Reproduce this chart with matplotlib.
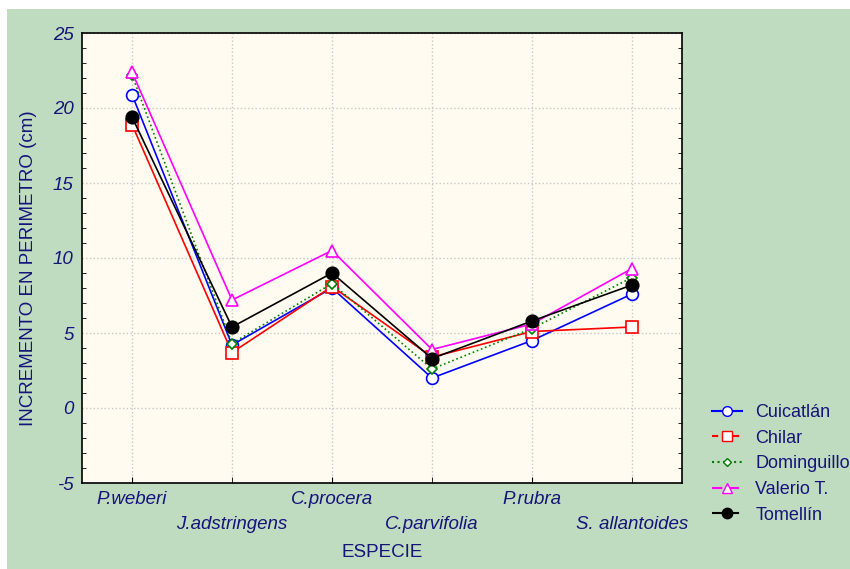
import matplotlib
matplotlib.use("Agg")
import matplotlib.pyplot as plt
from matplotlib.lines import Line2D
from matplotlib.patches import Rectangle
from matplotlib.ticker import MultipleLocator

plt.rcParams['font.family'] = ['Liberation Sans', 'DejaVu Sans']
plt.rcParams['axes.unicode_minus'] = False

especies = ["P.weberi", "J.adstringens", "C.procera", "C.parvifolia", "P.rubra", "S. allantoides"]
cuicatlan = [20.9, 4.2, 8.0, 2.0, 4.5, 7.6]
chilar = [18.9, 3.7, 8.1, 3.4, 5.1, 5.4]
dominguillo = [22.2, 4.3, 8.3, 2.6, 5.3, 8.7]
valerio = [22.4, 7.2, 10.5, 3.9, 5.6, 9.3]
tomellin = [19.4, 5.4, 9.0, 3.3, 5.8, 8.2]

navy = "#14147a"
green_bg = "#c0dcc0"
plot_bg = "#fffbf0"

fig = plt.figure(figsize=(8.5, 5.69), dpi=100)
fig.patch.set_facecolor("white")
fig.patches.append(Rectangle((7 / 850, 0), 1, 1 - 9 / 569, transform=fig.transFigure,
                             facecolor=green_bg, edgecolor="none", zorder=-10))

ax = fig.add_axes([82 / 850, 1 - 483 / 569, 600 / 850, 450 / 569])
ax.set_facecolor(plot_bg)

x = list(range(1, len(especies) + 1))

series = [
    ("Cuicatlán", cuicatlan, dict(color="blue", marker="o", mfc="white", ms=8.5, ls="-")),
    ("Chilar", chilar, dict(color="red", marker="s", mfc="white", ms=8, ls="-")),
    ("Dominguillo", dominguillo, dict(color="green", marker="D", mfc="white", ms=5.5, ls=":")),
    ("Valerio T.", valerio, dict(color="magenta", marker="^", mfc="white", ms=8, ls="-")),
    ("Tomellín", tomellin, dict(color="black", marker="o", mfc="black", ms=9, ls="-")),
]
for name, vals, st in series:
    ax.plot(x, vals, lw=1.2, mew=1.2, **st, zorder=3)

ax.set_xlim(0.5, 6.5)
ax.set_ylim(-5, 25)
ax.yaxis.set_major_locator(MultipleLocator(5))
ax.yaxis.set_minor_locator(MultipleLocator(1))

ax.set_xticks(x[::2])
ax.set_xticklabels(especies[::2])
ax.set_xticks(x[1::2], minor=True)
ax.set_xticklabels(especies[1::2], minor=True)

ax.grid(True, which="major", color="#c8c8c8", ls=":", lw=1)
ax.grid(True, which="minor", axis="x", color="#c8c8c8", ls=":", lw=1)

ax.tick_params(axis="x", which="both", direction="in", length=4, labelsize=13.5,
               labelcolor=navy, top=False)
ax.tick_params(axis="x", which="major", pad=6)
ax.tick_params(axis="x", which="minor", pad=24)
ax.tick_params(axis="y", which="both", direction="in", right=True, labelsize=13.5,
               labelcolor=navy, pad=6)
ax.tick_params(axis="y", which="major", length=0)
ax.tick_params(axis="y", which="minor", length=3)
for lab in ax.get_xticklabels(which="both") + ax.get_yticklabels():
    lab.set_style("italic")

for s in ax.spines.values():
    s.set_color("black")
    s.set_linewidth(1.2)

ax.set_xlabel("ESPECIE", fontsize=13.5, color=navy, labelpad=8)
ax.set_ylabel("INCREMENTO EN PERIMETRO (cm)", fontsize=13.5, color=navy)
ax.yaxis.set_label_coords(-0.075, 0.478)

handles = [
    Line2D([], [], color="blue", marker="o", mfc="white", ms=7, ls="-"),
    Line2D([], [], color="red", marker="s", mfc="white", ms=7.5, ls=(0, (3, 2))),
    Line2D([], [], color="green", marker="D", mfc="white", ms=4.5, ls=":"),
    Line2D([], [], color="magenta", marker="^", mfc="white", ms=6.5, ls=(0, (5, 3))),
    Line2D([], [], color="black", marker="o", mfc="black", ms=7.5, ls=(0, (5, 3))),
]
leg = fig.legend(handles, [s[0] for s in series], loc="upper left",
                 bbox_to_anchor=(712 / 850, 1 - 404 / 569), frameon=False,
                 borderpad=0, borderaxespad=0,
                 fontsize=13, handlelength=1.65, labelspacing=0.48, handletextpad=0.75)
for t in leg.get_texts():
    t.set_color(navy)

fig.savefig("out.png", dpi=100, facecolor=fig.get_facecolor())
